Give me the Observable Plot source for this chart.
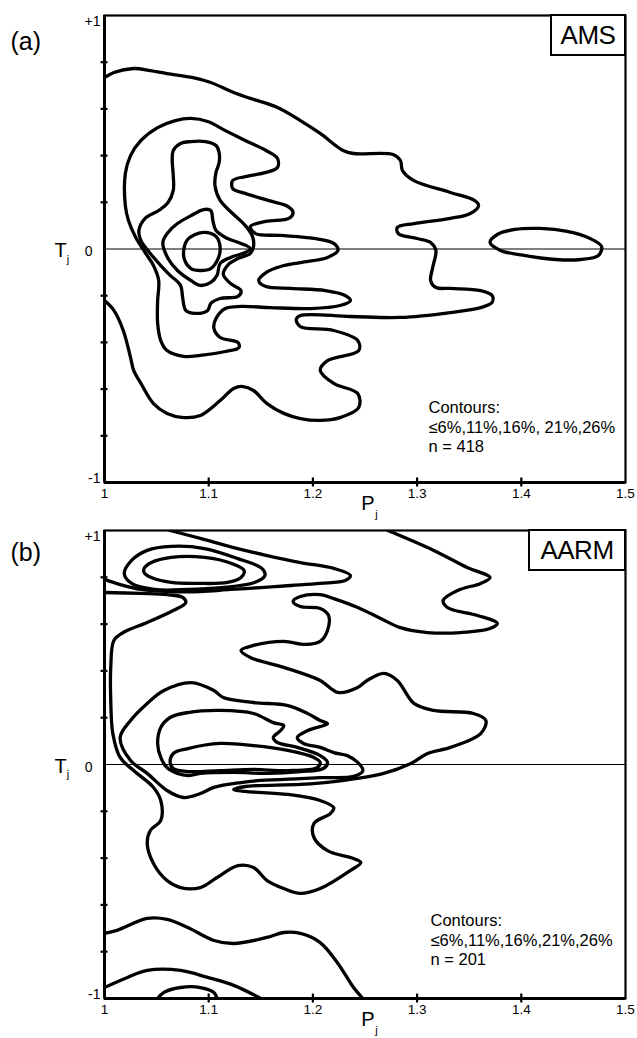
<!DOCTYPE html>
<html>
<head>
<meta charset="utf-8">
<script src="https://cdn.jsdelivr.net/npm/d3@7"></script>
<script src="https://cdn.jsdelivr.net/npm/@observablehq/plot@0.6"></script>
<style>
  body { margin: 0; background: #fff; }
  #wrap { position: relative; width: 637px; height: 1038px; overflow: hidden;
          font-family: "Liberation Sans", Arial, sans-serif; background: #fff; }
  .tag { position: absolute; box-sizing: border-box; border: 2px solid #000; background: #fff;
         font-family: "Liberation Sans", Arial, sans-serif; font-size: 26px; color: #000;
         display: flex; align-items: center; justify-content: center; letter-spacing: -0.5px; }
</style>
</head>
<body>
<div id="wrap"></div>
<script>
// ---------- axis / tick values ----------
const xTicks = [1, 1.1, 1.2, 1.3, 1.4, 1.5];
const xTickLabels = ["1", "1.1", "1.2", "1.3", "1.4", "1.5"];
const xInnerTicks = [1.1, 1.2, 1.3, 1.4];
const yMinorTicks = [-0.8, -0.6, -0.4, -0.2, 0.2, 0.4, 0.6, 0.8];

// ---------- panel (a) AMS contours [Pj, Tj] ----------
const amsOuter6 = [[1.000,0.734],[1.009,0.756],[1.028,0.773],[1.044,0.764],[1.060,0.751],[1.085,0.734],[1.102,0.713],[1.124,0.670],[1.140,0.645],[1.166,0.606],[1.188,0.550],[1.207,0.495],[1.229,0.422],[1.239,0.409],[1.277,0.405],[1.284,0.379],[1.286,0.336],[1.297,0.293],[1.332,0.242],[1.355,0.208],[1.359,0.186],[1.351,0.152],[1.332,0.131],[1.297,0.109],[1.281,0.092],[1.282,0.066],[1.300,0.045],[1.313,0.028],[1.318,-0.006],[1.315,-0.079],[1.313,-0.135],[1.318,-0.165],[1.332,-0.169],[1.361,-0.178],[1.372,-0.199],[1.372,-0.229],[1.361,-0.251],[1.332,-0.272],[1.284,-0.293],[1.236,-0.289],[1.188,-0.285],[1.184,-0.302],[1.188,-0.332],[1.220,-0.349],[1.243,-0.392],[1.244,-0.435],[1.214,-0.478],[1.207,-0.520],[1.220,-0.576],[1.243,-0.619],[1.244,-0.679],[1.226,-0.722],[1.207,-0.734],[1.188,-0.726],[1.172,-0.704],[1.156,-0.662],[1.143,-0.606],[1.133,-0.589],[1.124,-0.597],[1.111,-0.649],[1.092,-0.713],[1.076,-0.722],[1.060,-0.704],[1.047,-0.662],[1.035,-0.576],[1.028,-0.520],[1.025,-0.465],[1.018,-0.349],[1.009,-0.263],[1.000,-0.221]];
const amsRight6 = [[1.370,0.028],[1.377,0.062],[1.394,0.084],[1.418,0.088],[1.444,0.075],[1.466,0.045],[1.477,0.011],[1.474,-0.028],[1.457,-0.045],[1.433,-0.045],[1.404,-0.028],[1.380,-0.006]];
const ams11 = [[1.020,0.186],[1.020,0.323],[1.025,0.400],[1.035,0.465],[1.051,0.520],[1.068,0.550],[1.083,0.559],[1.099,0.546],[1.116,0.507],[1.135,0.465],[1.155,0.422],[1.166,0.388],[1.166,0.349],[1.155,0.328],[1.135,0.310],[1.123,0.293],[1.123,0.259],[1.135,0.238],[1.157,0.208],[1.176,0.182],[1.181,0.156],[1.177,0.131],[1.155,0.118],[1.140,0.096],[1.145,0.066],[1.169,0.058],[1.201,0.045],[1.220,0.024],[1.224,-0.006],[1.214,-0.036],[1.188,-0.058],[1.169,-0.075],[1.155,-0.101],[1.148,-0.135],[1.155,-0.161],[1.179,-0.169],[1.212,-0.178],[1.231,-0.199],[1.236,-0.221],[1.226,-0.242],[1.198,-0.255],[1.159,-0.251],[1.131,-0.246],[1.116,-0.255],[1.107,-0.298],[1.105,-0.340],[1.111,-0.379],[1.128,-0.400],[1.129,-0.422],[1.116,-0.439],[1.092,-0.456],[1.076,-0.460],[1.060,-0.435],[1.054,-0.392],[1.051,-0.319],[1.051,-0.221],[1.052,-0.135],[1.047,-0.071],[1.039,-0.015],[1.030,0.049],[1.023,0.122]];
const ams16 = [[1.065,0.379],[1.066,0.422],[1.073,0.452],[1.083,0.460],[1.097,0.460],[1.107,0.443],[1.110,0.413],[1.110,0.370],[1.107,0.328],[1.106,0.272],[1.111,0.208],[1.123,0.152],[1.135,0.101],[1.142,0.054],[1.143,0.011],[1.140,-0.019],[1.128,-0.041],[1.119,-0.066],[1.114,-0.109],[1.121,-0.148],[1.131,-0.178],[1.128,-0.203],[1.111,-0.212],[1.102,-0.233],[1.099,-0.263],[1.087,-0.276],[1.078,-0.263],[1.075,-0.208],[1.073,-0.156],[1.063,-0.113],[1.054,-0.071],[1.044,-0.019],[1.035,0.036],[1.033,0.079],[1.039,0.131],[1.052,0.165],[1.061,0.199],[1.066,0.251],[1.066,0.315]];
const ams21 = [[1.056,0.028],[1.061,0.071],[1.070,0.109],[1.083,0.143],[1.095,0.169],[1.102,0.165],[1.104,0.122],[1.107,0.079],[1.118,0.045],[1.131,0.024],[1.140,0.002],[1.135,-0.015],[1.121,-0.036],[1.111,-0.062],[1.108,-0.113],[1.102,-0.143],[1.092,-0.156],[1.083,-0.135],[1.070,-0.092],[1.061,-0.041]];
const ams26 = [[1.076,-0.006],[1.079,0.036],[1.087,0.062],[1.097,0.071],[1.107,0.054],[1.111,0.006],[1.109,-0.041],[1.102,-0.084],[1.092,-0.092],[1.083,-0.084],[1.077,-0.049]];

// ---------- panel (b) AARM contours [Pj, Tj] ----------
const aarmTopLeft6 = [[1.063,1.000],[1.092,0.966],[1.124,0.927],[1.156,0.893],[1.188,0.863],[1.220,0.838],[1.236,0.808],[1.231,0.786],[1.207,0.774],[1.179,0.765],[1.150,0.756],[1.121,0.748],[1.092,0.739],[1.063,0.739],[1.035,0.748],[1.015,0.769],[1.000,0.791]];
const aarmTop11 = [[1.019,0.816],[1.026,0.872],[1.041,0.915],[1.064,0.932],[1.096,0.923],[1.128,0.880],[1.151,0.838],[1.154,0.808],[1.144,0.778],[1.112,0.756],[1.080,0.748],[1.048,0.748],[1.026,0.774]];
const aarmTop16 = [[1.038,0.838],[1.045,0.863],[1.064,0.885],[1.096,0.885],[1.122,0.859],[1.134,0.829],[1.131,0.799],[1.118,0.778],[1.089,0.774],[1.064,0.778],[1.045,0.799],[1.038,0.821]];
const aarmOuter6 = [[1.000,0.735],[1.035,0.731],[1.060,0.726],[1.075,0.714],[1.078,0.692],[1.066,0.658],[1.041,0.607],[1.018,0.564],[1.009,0.530],[1.006,0.415],[1.006,0.274],[1.008,0.132],[1.015,0.030],[1.028,-0.026],[1.047,-0.098],[1.054,-0.154],[1.054,-0.239],[1.044,-0.282],[1.041,-0.338],[1.047,-0.423],[1.060,-0.496],[1.073,-0.526],[1.092,-0.526],[1.108,-0.483],[1.128,-0.432],[1.143,-0.440],[1.156,-0.496],[1.172,-0.530],[1.188,-0.551],[1.207,-0.530],[1.236,-0.453],[1.246,-0.419],[1.239,-0.402],[1.214,-0.368],[1.201,-0.312],[1.201,-0.252],[1.217,-0.209],[1.220,-0.184],[1.207,-0.154],[1.176,-0.128],[1.135,-0.115],[1.124,-0.107],[1.135,-0.094],[1.188,-0.085],[1.220,-0.073],[1.268,-0.038],[1.294,0.004],[1.310,0.047],[1.332,0.073],[1.361,0.132],[1.366,0.188],[1.354,0.218],[1.316,0.231],[1.297,0.261],[1.281,0.359],[1.268,0.389],[1.252,0.359],[1.243,0.329],[1.224,0.308],[1.207,0.359],[1.172,0.415],[1.140,0.457],[1.131,0.487],[1.143,0.509],[1.172,0.526],[1.193,0.513],[1.207,0.526],[1.214,0.573],[1.215,0.637],[1.207,0.667],[1.188,0.675],[1.181,0.697],[1.188,0.718],[1.207,0.726],[1.220,0.709],[1.243,0.671],[1.265,0.624],[1.284,0.585],[1.310,0.564],[1.342,0.564],[1.370,0.581],[1.377,0.603],[1.358,0.637],[1.329,0.671],[1.325,0.701],[1.339,0.744],[1.361,0.774],[1.370,0.799],[1.348,0.842],[1.316,0.915],[1.272,1.000]];
const aarm11 = [[1.057,0.316],[1.083,0.350],[1.105,0.316],[1.114,0.286],[1.143,0.265],[1.176,0.252],[1.195,0.218],[1.207,0.188],[1.214,0.175],[1.195,0.145],[1.185,0.115],[1.191,0.090],[1.207,0.073],[1.220,0.051],[1.233,0.038],[1.243,0.009],[1.248,-0.026],[1.239,-0.051],[1.207,-0.056],[1.188,-0.060],[1.150,-0.068],[1.131,-0.077],[1.105,-0.098],[1.092,-0.124],[1.076,-0.141],[1.060,-0.111],[1.041,-0.038],[1.025,0.017],[1.015,0.115],[1.025,0.188],[1.041,0.261]];
const aarm16 = [[1.054,0.030],[1.051,0.090],[1.054,0.158],[1.063,0.201],[1.080,0.222],[1.111,0.231],[1.143,0.218],[1.162,0.179],[1.172,0.167],[1.169,0.145],[1.162,0.115],[1.166,0.094],[1.185,0.073],[1.207,0.038],[1.214,0.009],[1.210,-0.017],[1.188,-0.030],[1.156,-0.038],[1.124,-0.034],[1.092,-0.038],[1.080,-0.047],[1.070,-0.038],[1.060,-0.013]];
const aarm21 = [[1.063,0.009],[1.066,0.047],[1.080,0.068],[1.111,0.090],[1.143,0.081],[1.176,0.060],[1.201,0.030],[1.207,0.009],[1.204,-0.013],[1.176,-0.026],[1.143,-0.021],[1.111,-0.026],[1.080,-0.030],[1.066,-0.017]];
const aarmLow6 = [[1.000,-0.722],[1.012,-0.709],[1.041,-0.658],[1.060,-0.662],[1.080,-0.697],[1.105,-0.752],[1.124,-0.765],[1.156,-0.739],[1.172,-0.718],[1.188,-0.722],[1.207,-0.761],[1.224,-0.850],[1.239,-0.953],[1.248,-1.000]];
const aarmLow11 = [[1.000,-0.953],[1.022,-0.910],[1.041,-0.880],[1.073,-0.880],[1.099,-0.910],[1.124,-0.944],[1.150,-1.000]];
const aarmLow16 = [[1.051,-1.000],[1.057,-0.974],[1.073,-0.953],[1.092,-0.953],[1.105,-0.974],[1.108,-1.000]];

// ---------- text ----------
const panelA = { letter: "(a)", tag: "AMS", lines: ["Contours:", "\u22646%,11%,16%, 21%,26%", "n = 418"] };
const panelB = { letter: "(b)", tag: "AARM", lines: ["Contours:", "\u22646%,11%,16%,21%,26%", "n = 201"] };

function rows(list) {
  return list.flatMap(([id, pts]) => pts.map(([P, T]) => ({ id, P, T })));
}

const FONT = '"Liberation Sans", Arial, sans-serif';

function makePanel({ closed, open, info, height, marginTop, marginBottom, letterDy, textDx, textDy }) {
  return Plot.plot({
    width: 637,
    height,
    marginTop,
    marginBottom,
    marginLeft: 104,
    marginRight: 12,
    x: { domain: [1, 1.5], label: null },
    y: { domain: [-1, 1], label: null },
    style: { fontFamily: FONT, fontSize: "13px", overflow: "visible", background: "transparent", color: "black" },
    marks: [
      Plot.ruleY([0], { strokeWidth: 1.1, stroke: "black" }),
      Plot.line(rows(closed), { x: "P", y: "T", z: "id", curve: "catmull-rom-closed", stroke: "black", strokeWidth: 3.3, strokeLinejoin: "round", clip: true }),
      Plot.line(rows(open), { x: "P", y: "T", z: "id", curve: "catmull-rom", stroke: "black", strokeWidth: 3.3, strokeLinejoin: "round", clip: true }),
      Plot.frame({ stroke: "black", strokeWidth: 2.2 }),
      Plot.ruleX([1], { stroke: "black", strokeWidth: 3 }),
      Plot.ruleY([-1], { stroke: "black", strokeWidth: 3 }),
      Plot.axisX(xInnerTicks, { tickSize: 9, dy: -4.5, tickFormat: () => "", strokeWidth: 2.2, label: null }),
      Plot.text(xTicks, { x: d => d, text: (d, i) => xTickLabels[i], frameAnchor: "bottom", dy: 15, fontSize: 13.5 }),
      Plot.axisY(yMinorTicks, { tickSize: 7, dx: 3.5, tickFormat: () => "", strokeWidth: 2.2, label: null }),
      Plot.text([info.letter], { frameAnchor: "top-left", dx: -94, dy: letterDy, textAnchor: "start", fontSize: 25 }),
      Plot.text(["+1"], { frameAnchor: "top-left", dx: -4, dy: 1, textAnchor: "end", fontSize: 14 }),
      Plot.text(["-1"], { frameAnchor: "bottom-left", dx: -4, dy: 0, textAnchor: "end", fontSize: 14 }),
      Plot.text(["0"], { frameAnchor: "left", dx: -12, dy: 3, textAnchor: "end", fontSize: 14 }),
      Plot.text(["T"], { frameAnchor: "left", dx: -44, dy: 2, textAnchor: "middle", fontSize: 20 }),
      Plot.text(["j"], { frameAnchor: "left", dx: -36.5, dy: 10, textAnchor: "middle", fontSize: 11 }),
      Plot.text(["P"], { frameAnchor: "bottom", dx: 3, dy: 27, textAnchor: "middle", fontSize: 20 }),
      Plot.text(["j"], { frameAnchor: "bottom", dx: 11.5, dy: 35, textAnchor: "middle", fontSize: 11 }),
      Plot.text([info.lines.join("\n")], { frameAnchor: "top-left", dx: textDx, dy: textDy, textAnchor: "start", lineAnchor: "top", lineHeight: 1.17, fontSize: 16.5 })
    ]
  });
}

const wrap = document.getElementById("wrap");

const svgA = makePanel({
  closed: [["ams11", ams11], ["ams16", ams16], ["ams21", ams21], ["ams26", ams26], ["amsRight6", amsRight6]],
  open: [["amsOuter6", amsOuter6]],
  info: panelA, height: 515, marginTop: 15, marginBottom: 33, letterDy: 17, textDx: 324, textDy: 384
});
svgA.style.position = "absolute"; svgA.style.left = "0px"; svgA.style.top = "0px";
wrap.appendChild(svgA);

const svgB = makePanel({
  closed: [["aarmTop11", aarmTop11], ["aarmTop16", aarmTop16], ["aarm11", aarm11], ["aarm16", aarm16], ["aarm21", aarm21]],
  open: [["aarmTopLeft6", aarmTopLeft6], ["aarmOuter6", aarmOuter6], ["aarmLow6", aarmLow6], ["aarmLow11", aarmLow11], ["aarmLow16", aarmLow16]],
  info: panelB, height: 523, marginTop: 15, marginBottom: 40, letterDy: 13, textDx: 326, textDy: 382
});
svgB.style.position = "absolute"; svgB.style.left = "0px"; svgB.style.top = "515px";
wrap.appendChild(svgB);

function tagBox(text, left, top, width, height) {
  const d = document.createElement("div");
  d.className = "tag";
  d.textContent = text;
  Object.assign(d.style, { left: left + "px", top: top + "px", width: width + "px", height: height + "px" });
  wrap.appendChild(d);
}
tagBox(panelA.tag, 550, 14, 76, 42);
tagBox(panelB.tag, 528, 529, 98, 42);
</script>
</body>
</html>
